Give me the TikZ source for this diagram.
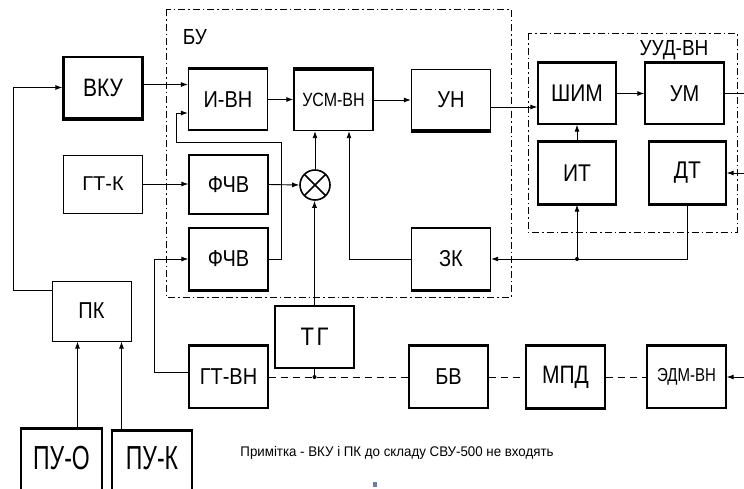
\documentclass[tikz,border=0pt]{standalone}
\usepackage{fontspec}
\setmainfont{Liberation Sans}
\usepackage{graphicx}
\usetikzlibrary{positioning,calc,arrows.meta}
\newcommand{\tall}[2][1.15]{\scalebox{1}[#1]{#2}}
\definecolor{marker}{RGB}{105,125,170}

\begin{document}
\begin{tikzpicture}[x=1pt,y=-1pt,
  blk/.style={rectangle,draw,line width=1.3pt,minimum width=79pt,minimum height=61pt,inner sep=0pt,font=\fontsize{20}{20}\selectfont},
  arr/.style={-{Latex[length=7pt,width=5pt]},line width=0.9pt},
  ln/.style={line width=0.9pt},
  thk/.style={line width=3.5pt},
  grp/.style={line width=0.9pt,dash pattern=on 7pt off 3pt on 1.5pt off 3pt},
  mech/.style={line width=0.9pt,dash pattern=on 7pt off 5pt}]

\useasboundingbox (0,0) rectangle (744,488);

% frames
\draw[grp] (166,9) rectangle (511,297);
\draw[grp] (528,33) rectangle (737,232);
\node at (195,37) [font=\fontsize{19}{19}\selectfont] (bu) {\tall{БУ}};
\node at (674,50) [font=\fontsize{19}{19}\selectfont] (uud) {\tall{УУД-ВН}};

% blocks
\node[blk,line width=2.2pt,font=\fontsize{21}{21}\selectfont] (vku) at (103,87.5) {\tall[1.2]{ВКУ}};
\node[blk,minimum height=58pt,line width=1pt] (gtk) at (103,184) {ГТ-К};
\node[blk] (ivn) at (228,99.5) {\tall{И-ВН}};
\node[blk,font=\fontsize{16}{16}\selectfont] (usm) at (333.5,100) {\tall[1.2]{УСМ-ВН}};
\node[blk] (un) at (451,100) {\tall{УН}};
\node[blk,minimum height=59pt] (fchv1) at (228.5,184.5) {\tall{ФЧВ}};
\node[blk,minimum height=62pt] (fchv2) at (228.5,259) {\tall{ФЧВ}};
\node[circle,draw,line width=1.6pt,minimum size=30pt,inner sep=0pt,
  path picture={\draw[line width=1.6pt] (path picture bounding box.north west) -- (path picture bounding box.south east)
    (path picture bounding box.north east) -- (path picture bounding box.south west);}] (sum) at (315,185) {};
\node[blk,minimum height=62pt] (zk) at (451,259) {\tall{ЗК}};
\node[blk,minimum width=78pt,font=\fontsize{21}{21}\selectfont] (shim) at (577,93.5) {\tall{ШИМ}};
\node[blk] (um) at (684.5,93.5) {\tall{УМ}};
\node[blk,minimum width=78pt,minimum height=62pt,font=\fontsize{21}{21}\selectfont] (it) at (577,173) {\tall{ИТ}};
\node[blk,minimum width=77pt,minimum height=62pt,font=\fontsize{21}{21}\selectfont] (dt) at (687.5,173) {\tall{ДТ}};
\node[blk,line width=2.5pt,minimum height=62pt,font=\fontsize{22}{22}\selectfont] (tg) at (314.5,337) {\tall{Т\kern2.5ptГ}};
\node[blk,minimum height=62pt] (gtvn) at (228.5,377) {\tall{ГТ-ВН}};
\node[blk,minimum height=62pt] (bv) at (448.5,377) {\tall{БВ}};
\node[blk,minimum height=62pt,font=\fontsize{21}{21}\selectfont] (mpd) at (565.5,377) {\tall[1.2]{МПД}};
\node[blk,minimum height=62pt,font=\fontsize{15}{15}\selectfont] (edm) at (686.5,377) {\tall[1.25]{ЭДМ-ВН}};
\node[blk,minimum height=60pt,line width=1pt] (pk) at (91.5,311) {\tall{ПК}};
\node[blk,anchor=north,minimum width=81pt,line width=2.5pt,text height=41pt,text depth=60pt,font=\fontsize{23}{23}\selectfont] (puo) at (61.5,427) {\tall[1.45]{ПУ-О}};
\node[blk,anchor=north,minimum width=80pt,line width=2.5pt,text height=39pt,text depth=60pt,font=\fontsize{23}{23}\selectfont] (puk) at (152,429) {\tall[1.45]{ПУ-К}};

% heavy edges
\foreach \n in {ivn,usm,shim,um,it,dt,gtvn,bv,mpd,edm} {
    \draw[thk] (\n.north west) -- (\n.north east);
}
\foreach \n in {vku,fchv2,un,zk,it,dt,mpd} {
    \draw[thk] (\n.south west) -- (\n.south east);
}

% signal lines
\draw[arr] ([yshift=-10pt]pk.north west) -- ++(-38,0) |- (vku.west);
\draw[arr] ([yshift=3pt]vku.east) -- ([yshift=3pt]vku.east -| ivn.west);
\draw[arr] (ivn.east) -- (ivn.east -| usm.west);
\draw[arr] (usm.east) -- (usm.east -| un.west);
\draw[arr] ([yshift=-7pt]un.east) -- ([yshift=-7pt]un.east -| shim.west);
\draw[arr] (shim.east) -- (um.west);
\coordinate (umout) at (744,93.5);
\draw[ln] (um.east) -- (umout);
\coordinate (dtin) at (744,173);
\draw[arr] (dtin) -- (dt.east);
\draw[arr] (it.north) -- (shim.south);
\draw[arr] (dt.south) |- (zk.east);
\fill (it.south |- zk.east) circle (2pt);
\draw[arr] (it.south |- zk.east) -- (it.south);
\draw[arr] (zk.west) -| ([xshift=15.5pt]usm.south);
\draw[arr] (sum.north) -- (sum.north |- usm.south);
\draw[arr] (gtk.east) -- (gtk.east -| fchv1.west);
\draw[arr] (fchv1.east) -- (sum.west);
\draw[arr] (fchv2.east) -- ++(13,0) |- (176,142) |- ([yshift=-13.5pt]ivn.west);
\draw[arr] (tg.north) -- (tg.north |- sum.south);
\draw[ln] (tg.south) -- (tg.south |- gtvn.east);
\fill (tg.south |- gtvn.east) circle (2pt);
\draw[arr] ([yshift=5pt]gtvn.west) -- ++(-34,0) |- (fchv2.west);
\draw[arr] ([xshift=26pt]pk.south west |- puo.north) -- ([xshift=26pt]pk.south west);
\draw[arr] ([xshift=70pt]pk.south west |- puk.north) -- ([xshift=70pt]pk.south west);

% mechanical link
\draw[mech] (gtvn.east) -- (bv.west);
\draw[mech] (bv.east) -- (mpd.west);
\draw[mech] (mpd.east) -- (edm.west);
\coordinate (edmin) at (744,377);
\draw[arr] (edmin) -- (edm.east);

\node at (397,453) [font=\fontsize{13.3}{13.3}\selectfont] (note) {\tall[1.05]{Примітка - ВКУ і ПК до складу СВУ-500 не входять}};
\fill[marker] (373,482) rectangle (377,487);
\end{tikzpicture}
\end{document}
